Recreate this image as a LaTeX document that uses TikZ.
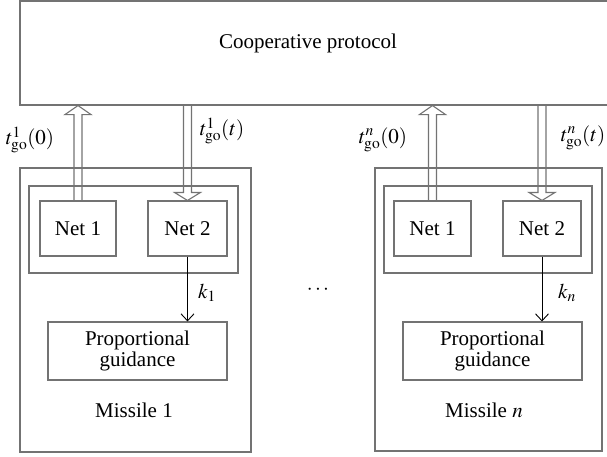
\documentclass[tikz,border=0pt]{standalone}
\usepackage{mathptmx}
\usepackage{fontspec}
\setmainfont{Liberation Serif}
\usetikzlibrary{arrows.meta,calc}

% hollow double arrow: tail, tip, head length (signed)
\newcommand{\fatarrow}[3]{%
  \draw[blockbox] ($(#1)+(-4,0)$) -- ($(#2)+(-4,#3)$) -- ($(#2)+(-13,#3)$) -- (#2)
    -- ($(#2)+(13,#3)$) -- ($(#2)+(4,#3)$) -- ($(#1)+(4,0)$);}

\tikzset{
  blockbox/.style={draw=black!55,line width=1.1pt,inner sep=0pt,align=center},
  gain/.style={-{Straight Barb[length=7pt,width=13pt]},line width=0.9pt}
}

\begin{document}
\begin{tikzpicture}[x=1pt,y=-1pt,font=\fontsize{21}{20.5}\selectfont]
	\useasboundingbox (0,0) rectangle (607,456);
	\node[blockbox,minimum width=600,minimum height=104] (coop) at (320,53) {};
	\node (coopText) at (308,43) {Cooperative protocol};
	% missile 1
	\node[blockbox,minimum width=231,minimum height=284] (misA) at (135.5,310) {};
	\node[blockbox,minimum width=209,minimum height=87] (grpA) at (133.5,229.5) {};
	\node[blockbox,minimum width=76,minimum height=55] (netA1) at (78,228.5) {Net 1};
	\node[blockbox,minimum width=79,minimum height=55] (netA2) at (187.5,228.5) {Net 2};
	\node[blockbox,minimum width=179,minimum height=58] (pgA) at (137.5,351) {Proportional\\guidance};
	\node (misAText) at (134,410) {Missile 1};
	% missile n
	\node[blockbox,minimum width=227,minimum height=283] (misB) at (488.5,309.5) {};
	\node[blockbox,minimum width=208,minimum height=87] (grpB) at (488,229.5) {};
	\node[blockbox,minimum width=77,minimum height=55] (netB1) at (432.5,228.5) {Net 1};
	\node[blockbox,minimum width=78,minimum height=55] (netB2) at (542,228.5) {Net 2};
	\node[blockbox,minimum width=179,minimum height=58] (pgB) at (492.5,351) {Proportional\\guidance};
	\node (misBText) at (484,410) {Missile $n$};
	% exchange with protocol
	\coordinate (upA) at (netA1.north |- coop.south);
	\coordinate (dnA) at (netA2.north |- coop.south);
	\coordinate (upB) at (netB1.north |- coop.south);
	\coordinate (dnB) at (netB2.north |- coop.south);
	\fatarrow{netA1.north}{upA}{9}
	\fatarrow{dnA}{netA2.north}{-8}
	\fatarrow{netB1.north}{upB}{9}
	\fatarrow{dnB}{netB2.north}{-8}
	\node (tA0) at (30,140) {$t^{1}_{\mathrm{go}}(0)$};
	\node (tAt) at (222,131) {$t^{1}_{\mathrm{go}}(t)$};
	\node (tB0) at (383,140) {$t^{n}_{\mathrm{go}}(0)$};
	\node (tBt) at (583,138) {$t^{n}_{\mathrm{go}}(t)$};
	% gains
	\draw[gain] (netA2.south) -- (netA2.south |- pgA.north);
	\draw[gain] (netB2.south) -- (netB2.south |- pgB.north);
	\node (kA) at (207,293) {$k_1$};
	\node (kB) at (567,293) {$k_n$};
	\node (dots) at (318,290) {$\cdots$};
\end{tikzpicture}
\end{document}
